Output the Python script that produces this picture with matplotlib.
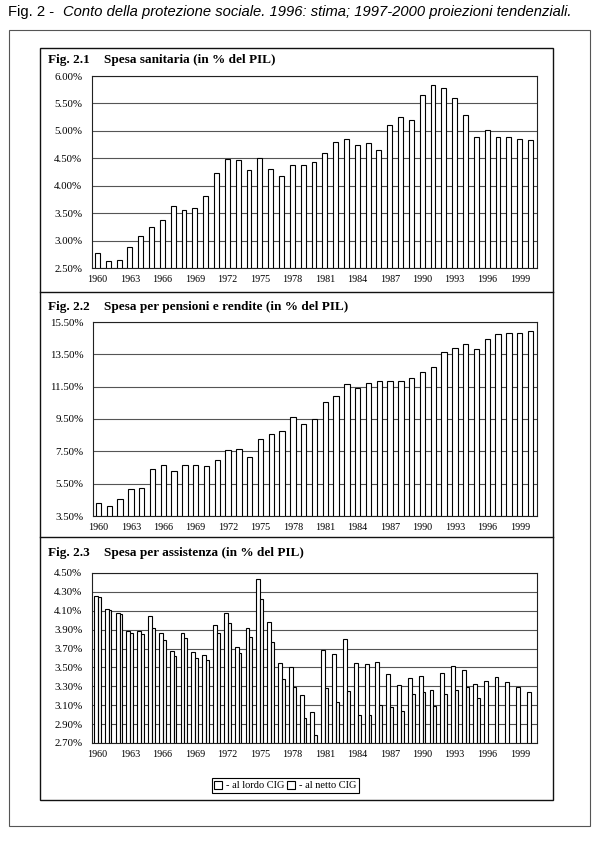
import numpy as np
import matplotlib
matplotlib.use("Agg")
import matplotlib.pyplot as plt
from matplotlib.patches import Rectangle, Patch
from matplotlib.lines import Line2D

# ---------------- data ----------------
years = list(range(1960, 2001))
tick_years = list(range(1960, 2000, 3))

sanitaria = [2.77, 2.63, 2.65, 2.88, 3.09, 3.25, 3.37, 3.63, 3.55, 3.60,
             3.82, 4.24, 4.49, 4.46, 4.29, 4.50, 4.31, 4.17, 4.37, 4.37,
             4.43, 4.60, 4.79, 4.86, 4.74, 4.78, 4.66, 5.11, 5.25, 5.20,
             5.65, 5.83, 5.78, 5.59, 5.28, 4.89, 5.02, 4.88, 4.88, 4.85,
             4.84]

pensioni = [4.28, 4.10, 4.57, 5.15, 5.25, 6.43, 6.68, 6.30, 6.63, 6.63,
            6.61, 6.98, 7.60, 7.62, 7.17, 8.28, 8.59, 8.78, 9.60, 9.21,
            9.48, 10.53, 10.90, 11.66, 11.44, 11.71, 11.85, 11.85, 11.85, 12.04,
            12.43, 12.70, 13.62, 13.89, 14.14, 13.83, 14.47, 14.76, 14.80, 14.84,
            14.96]

assist_lordo = [4.26, 4.12, 4.08, 3.89, 3.89, 4.04, 3.86, 3.67, 3.87, 3.66,
                3.63, 3.95, 4.08, 3.72, 3.92, 4.44, 3.98, 3.55, 3.50, 3.21,
                3.03, 3.69, 3.64, 3.80, 3.55, 3.54, 3.56, 3.43, 3.31, 3.39,
                3.41, 3.26, 3.44, 3.52, 3.47, 3.32, 3.36, 3.40, 3.35, 3.29,
                3.24]
assist_netto = [4.25, 4.11, 4.07, 3.87, 3.85, 3.92, 3.79, 3.62, 3.81, 3.60,
                3.58, 3.86, 3.97, 3.65, 3.82, 4.23, 3.77, 3.38, 3.29, 2.97,
                2.79, 3.28, 3.13, 3.25, 3.00, 3.00, 3.10, 3.08, 3.04, 3.22,
                3.24, 3.09, 3.22, 3.26, 3.29, 3.18, None, None, None, None,
                None]

page_title_a = "Fig. 2 - "
page_title_b = "Conto della protezione sociale. 1996: stima; 1997-2000 proiezioni tendenziali."
panel_nums = ["Fig. 2.1", "Fig. 2.2", "Fig. 2.3"]
panel_titles = ["Spesa sanitaria (in % del PIL)",
                "Spesa per pensioni e rendite (in % del PIL)",
                "Spesa per assistenza (in % del PIL)"]
legend_labels = ["- al lordo CIG", "- al netto CIG"]

# ---------------- figure ----------------
W, H = 602, 844
fig = plt.figure(figsize=(W / 100, H / 100), dpi=100)
fig.patch.set_facecolor("white")

SERIF = ["Liberation Serif", "DejaVu Serif"]
SANS = ["Liberation Sans", "DejaVu Sans"]


def px_axes(x0, y0, x1, y1):
    return fig.add_axes([x0 / W, 1 - y1 / H, (x1 - x0) / W, (y1 - y0) / H])


def fx(x):
    return x / W


def fy(y):
    return 1 - y / H


# frames
fig.add_artist(Rectangle((fx(9), fy(826)), fx(590) - fx(9), fy(30) - fy(826),
                         transform=fig.transFigure, fill=False,
                         edgecolor="#555555", lw=0.8))
fig.add_artist(Rectangle((fx(40), fy(800)), fx(553) - fx(40), fy(48) - fy(800),
                         transform=fig.transFigure, fill=False,
                         edgecolor="#111111", lw=1.0))
for ysep in (292, 537):
    fig.add_artist(Line2D([fx(40), fx(553)], [fy(ysep), fy(ysep)],
                          transform=fig.transFigure, color="#111111", lw=1.0))

# page title
fig.text(fx(8), fy(12), page_title_a, family=SANS, fontsize=10.6,
         ha="left", va="center")
fig.text(fx(63), fy(12), page_title_b, family=SANS, fontsize=10.6,
         style="italic", ha="left", va="center")

# panel titles
for num, title, ypix in zip(panel_nums, panel_titles, (60, 307, 553)):
    fig.text(fx(48), fy(ypix), num, family=SERIF, fontsize=9.5,
             weight="bold", ha="left", va="center")
    fig.text(fx(104), fy(ypix), title, family=SERIF, fontsize=9.5,
             weight="bold", ha="left", va="center")

x = np.arange(len(years))
tick_idx = [years.index(t) for t in tick_years]


def style_axes(ax, ymin, ymax, step):
    ticks = np.arange(ymin, ymax + step / 2, step)
    ax.set_ylim(ymin, ymax)
    ax.set_yticks(ticks)
    ax.set_yticklabels([f"{t:.2f}%" for t in ticks], family=SERIF, fontsize=7.8)
    ax.set_xlim(-0.5, len(years) - 0.4)
    ax.set_xticks(tick_idx)
    ax.set_xticklabels([str(t) for t in tick_years], family=SERIF, fontsize=7.3)
    ax.tick_params(axis="both", length=0)
    ax.tick_params(axis="y", pad=7)
    ax.tick_params(axis="x", pad=5)
    ax.yaxis.grid(True, color="#555555", lw=0.8)
    ax.set_axisbelow(True)
    for s in ax.spines.values():
        s.set_color("#222222")
        s.set_linewidth(0.8)
    ax.set_facecolor("white")


# panel 1
ax1 = px_axes(92, 76, 537, 268)
ax1.bar(x, sanitaria, width=0.45, color="white", edgecolor="black", lw=0.8)
style_axes(ax1, 2.5, 6.0, 0.5)

# panel 2
ax2 = px_axes(93, 322, 537, 516)
ax2.bar(x, pensioni, width=0.5, color="white", edgecolor="black", lw=0.8)
style_axes(ax2, 3.5, 15.5, 2.0)

# panel 3
ax3 = px_axes(92, 573, 537, 743)
lordo = np.array(assist_lordo, dtype=float)
netto = np.array([np.nan if v is None else v for v in assist_netto], dtype=float)
ok = ~np.isnan(netto)
ax3.bar(x - 0.14, lordo, width=0.36, color="white", edgecolor="black", lw=0.8)
ax3.bar(x[ok] + 0.17, netto[ok], width=0.26, color="#f4f4f4",
        edgecolor="black", lw=0.8)
style_axes(ax3, 2.7, 4.5, 0.2)

handles = [Patch(facecolor="white", edgecolor="black", lw=0.8),
           Patch(facecolor="white", edgecolor="black", lw=0.8)]
leg = fig.legend(handles, legend_labels, loc="center",
                 bbox_to_anchor=(fx(285), fy(785.5)), ncol=2,
                 prop={"family": SERIF, "size": 7.5},
                 handlelength=0.8, handleheight=0.8, handletextpad=0.3,
                 columnspacing=0.3, borderpad=0.25, borderaxespad=0,
                 fancybox=False, framealpha=1)
leg.get_frame().set_edgecolor("black")
leg.get_frame().set_linewidth(0.8)

fig.savefig("out.png", dpi=100, facecolor="white")
